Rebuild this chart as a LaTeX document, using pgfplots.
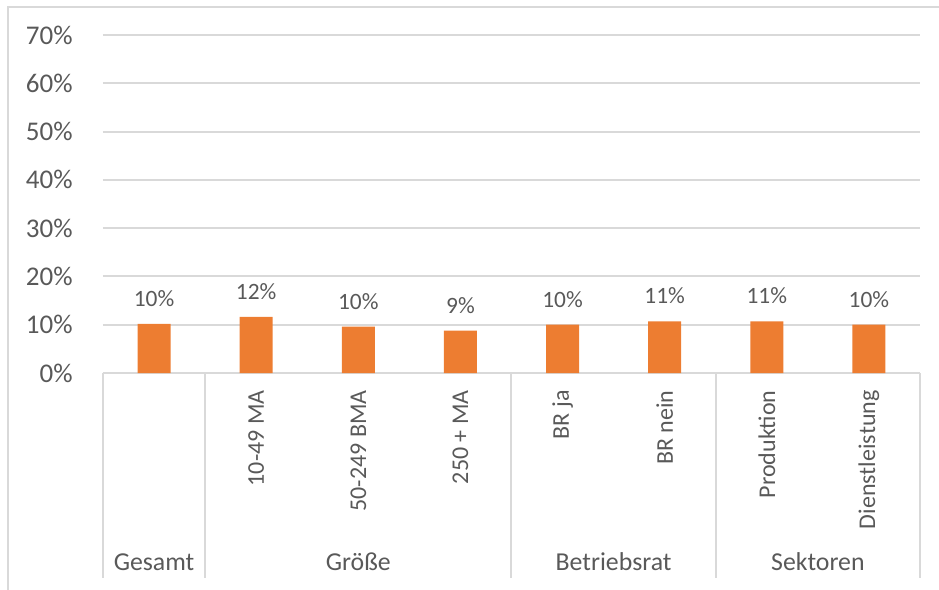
\documentclass[border=0pt]{standalone}
\usepackage{fontspec}
\setmainfont{Carlito}
\usepackage{pgfplots}
\pgfplotsset{compat=1.18}
\definecolor{barc}{HTML}{ED7D31}
\definecolor{txt}{HTML}{595959}
\definecolor{gridc}{HTML}{D9D9D9}
\begin{document}
\begin{tikzpicture}
\path[use as bounding box] (-51.5pt,-108.5pt) rectangle (418pt,186.5pt);
\draw[gridc, line width=1pt] (-47.5pt,-110pt) -- (-47.5pt,183pt) -- (420pt,183pt);
\begin{axis}[
  scale only axis, width=408.5pt, height=169pt,
  at={(0,0)}, anchor=south west,
  xmin=-0.5, xmax=7.5, ymin=0, ymax=70,
  clip=false,
  axis line style={draw=none},
  major tick length=0pt,
  tick style={draw=none},
  ymajorgrids, grid style={gridc, line width=1pt},
  ytick={0,10,...,70},
  yticklabel={\pgfmathprintnumber{\tick}\%},
  /pgf/number format/assume math mode=true,
  yticklabel style={font=\fontsize{13.5}{15}\selectfont, text=txt, inner sep=0pt, anchor=east},
  yticklabel shift=15pt,
  xtick={0,...,7},
  xticklabels={{},10-49 MA,50-249 BMA,250 + MA,BR ja,BR nein,Produktion,Dienstleistung},
  xticklabel style={rotate=90, anchor=east, inner sep=0pt, font=\fontsize{12}{14}\selectfont, text=txt},
  xticklabel shift=8.5pt,
]
\addplot[ybar, bar width=16.5pt, fill=barc, draw=none,
  nodes near coords={\pgfmathprintnumber[fixed,precision=0]{\pgfplotspointmeta}\%},
  every node near coord/.append style={font=\fontsize{11.7}{13}\selectfont, text=txt, anchor=base, inner sep=0pt, yshift=8.7pt}]
  coordinates {(0,10.2) (1,11.6) (2,9.6) (3,8.8) (4,10.0) (5,10.7) (6,10.7) (7,10.0)};
\foreach \xx in {-0.5,0.5,3.5,5.5,7.5} {
  \edef\tmp{\noexpand\draw[gridc, line width=1pt] (axis cs:\xx,0) -- (axis cs:\xx,-42.4);}
  \tmp
}
\node[anchor=base, font=\fontsize{12.9}{15}\selectfont, text=txt] at (axis cs:0,-40.8) {Gesamt};
\node[anchor=base, font=\fontsize{12.9}{15}\selectfont, text=txt] at (axis cs:2,-40.8) {Größe};
\node[anchor=base, font=\fontsize{12.9}{15}\selectfont, text=txt] at (axis cs:4.5,-40.8) {Betriebsrat};
\node[anchor=base, font=\fontsize{12.9}{15}\selectfont, text=txt] at (axis cs:6.5,-40.8) {Sektoren};
\end{axis}
\end{tikzpicture}
\end{document}
